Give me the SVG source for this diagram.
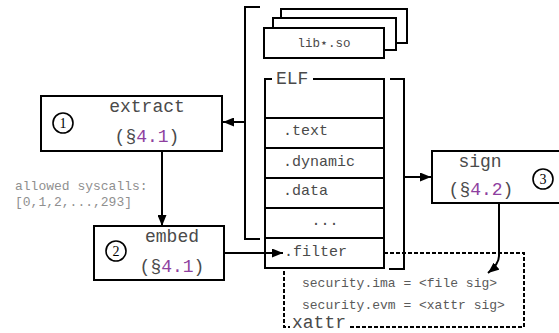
<svg xmlns="http://www.w3.org/2000/svg" width="559" height="333" viewBox="0 0 559 333">
  <style>
    .box{fill:#fff;stroke:#000;stroke-width:2}
    .ln{fill:none;stroke:#000;stroke-width:2}
    .dash{fill:none;stroke:#000;stroke-width:2;stroke-dasharray:4 2}
    .t{font-family:"Liberation Mono","DejaVu Sans Mono",monospace;fill:#4a4a4a}
    .big{font-size:18px}
    .sec{font-size:15px}
    .small{font-size:12.5px}
    .note{font-size:13px;fill:#8f8f8f}
    .attr{font-size:13px;fill:#5a5a5a}
    .ref{fill:#8e3f9f}
    .circ{fill:#fff;stroke:#000;stroke-width:1.6}
    .num{font-family:"Liberation Serif","DejaVu Serif",serif;font-size:14px;fill:#000}
  </style>
  <defs>
    <marker id="arrow" markerUnits="userSpaceOnUse" markerWidth="11" markerHeight="9" refX="11" refY="4.5" orient="auto">
      <path d="M0,0 L11,4.5 L0,9 z" fill="#000"/>
    </marker>
  </defs>

  <!-- shared libraries -->
  <g id="libs">
    <rect class="box" x="281" y="9" width="126" height="34"/>
    <rect class="box" x="273" y="18" width="123" height="32"/>
    <rect class="box" x="264" y="28" width="120" height="30"/>
    <text class="t small" x="324" y="47" text-anchor="middle">lib<tspan font-family="DejaVu Sans, sans-serif">⋆</tspan>.so</text>
  </g>

  <!-- ELF binary with its sections -->
  <g id="elf">
    <path class="ln" d="M272,79 H265 V268 H384 V79 H313"/>
    <path class="ln" d="M265,118 H384 M265,148 H384 M265,178 H384 M265,208 H384 M265,238 H384"/>
    <text class="t big" x="276" y="84">ELF</text>
    <text class="t sec" x="283" y="135">.text</text>
    <text class="t sec" x="283" y="166">.dynamic</text>
    <text class="t sec" x="283" y="195">.data</text>
    <text class="t sec" x="325" y="225" text-anchor="middle">...</text>
    <text class="t sec" x="284" y="256">.filter</text>
  </g>

  <!-- extended attributes -->
  <g id="xattr">
    <path class="dash" d="M384,253 H524 V327 H350 M284,271 V327 H290"/>
    <text class="t big" x="292" y="328" font-size="17">xattr</text>
    <text class="t attr" x="302" y="287">security.ima = &lt;file sig&gt;</text>
    <text class="t attr" x="302" y="309">security.evm = &lt;xattr sig&gt;</text>
  </g>

  <!-- step 1 -->
  <g id="extract">
    <rect class="box" x="41" y="96" width="181" height="55"/>
    <text class="t big" x="147" y="112" text-anchor="middle">extract</text>
    <text class="t big" x="147" y="142" text-anchor="middle">(§<tspan class="ref">4.1</tspan>)</text>
    <circle class="circ" cx="63" cy="123" r="10"/>
    <text class="num" x="63" y="128" text-anchor="middle">1</text>
  </g>

  <!-- step 2 -->
  <g id="embed">
    <rect class="box" x="94" y="226" width="130" height="54"/>
    <text class="t big" x="172" y="242" text-anchor="middle">embed</text>
    <text class="t big" x="172" y="272" text-anchor="middle">(§<tspan class="ref">4.1</tspan>)</text>
    <circle class="circ" cx="116" cy="251" r="10"/>
    <text class="num" x="116" y="256" text-anchor="middle">2</text>
  </g>

  <!-- step 3 -->
  <g id="sign">
    <rect class="box" x="432" y="151" width="140" height="52"/>
    <text class="t big" x="480" y="167" text-anchor="middle">sign</text>
    <text class="t big" x="481" y="195" text-anchor="middle">(§<tspan class="ref">4.2</tspan>)</text>
    <circle class="circ" cx="543" cy="179" r="10"/>
    <text class="num" x="543" y="184" text-anchor="middle">3</text>
  </g>

  <!-- annotation -->
  <g id="syscalls">
    <text class="t note" x="15" y="190">allowed syscalls:</text>
    <text class="t note" x="15" y="206">[0,1,2,...,293]</text>
  </g>

  <g id="connectors">
    <!-- brackets -->
    <path class="ln" d="M260,7 H245 V239 H260"/>
    <path class="ln" d="M390,79 H404 V269 H389"/>
    <!-- arrows -->
    <path class="ln" d="M245,122 H223" marker-end="url(#arrow)"/>
    <path class="ln" d="M162,151 V226" marker-end="url(#arrow)"/>
    <path class="ln" d="M224,253 H283" marker-end="url(#arrow)"/>
    <path class="ln" d="M404,177 H431" marker-end="url(#arrow)"/>
    <path class="ln" d="M499,203 V256 Q499,264 488,273" marker-end="url(#arrow)"/>
  </g>
</svg>
